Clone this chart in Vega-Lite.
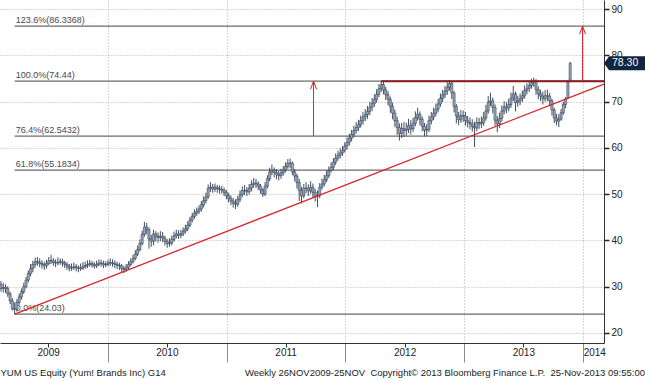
{
"$schema": "https://vega.github.io/schema/vega-lite/v6.json",
"width": 604, "height": 343,
"autosize": {"type": "none"},
"padding": {"left": 0, "top": 0, "right": 41, "bottom": 37},
"background": "white",
"config": {"view": {"stroke": null}, "font": "Liberation Sans", "axisX": {"labelOverlap": false}},
"title": {"text": "Weekly 26NOV2009-25NOV\u00a0 Copyright\u00a9 2013 Bloomberg Finance L.P.\u00a0 25-Nov-2013 09:55:00", "orient": "bottom", "anchor": "end", "frame": "group", "offset": -9, "dx": 41, "fontSize": 9.5, "fontWeight": "normal", "color": "#222", "font": "Liberation Sans"},
"datasets": {
"px": [
{"d":"2009-02-06","o":30.5,"h":31.2,"l":28.9,"c":29.6},
{"d":"2009-02-13","o":29.6,"h":30.8,"l":28.7,"c":29.85},
{"d":"2009-02-20","o":29.85,"h":30.5,"l":28.6,"c":29.6},
{"d":"2009-02-27","o":29.6,"h":30.1,"l":27.8,"c":28.45},
{"d":"2009-03-06","o":28.45,"h":28.9,"l":26.2,"c":26.9},
{"d":"2009-03-13","o":26.9,"h":27.5,"l":24.8,"c":25.2},
{"d":"2009-03-20","o":25.2,"h":26.6,"l":24.03,"c":25.1},
{"d":"2009-03-27","o":25.1,"h":27.3,"l":24.6,"c":26.6},
{"d":"2009-04-03","o":26.6,"h":28.5,"l":26.1,"c":27.75},
{"d":"2009-04-10","o":27.75,"h":29.6,"l":27.2,"c":28.9},
{"d":"2009-04-17","o":28.9,"h":30.8,"l":28.4,"c":30},
{"d":"2009-04-24","o":30,"h":32.1,"l":29.6,"c":31.4},
{"d":"2009-05-01","o":31.4,"h":33.5,"l":30.9,"c":32.8},
{"d":"2009-05-08","o":32.8,"h":34.9,"l":32.2,"c":33.9},
{"d":"2009-05-15","o":33.9,"h":35.6,"l":33.1,"c":34.8},
{"d":"2009-05-22","o":34.8,"h":36.3,"l":34.1,"c":35.4},
{"d":"2009-05-29","o":35.4,"h":36.4,"l":34.5,"c":35.3},
{"d":"2009-06-05","o":35.3,"h":36.1,"l":34.2,"c":35},
{"d":"2009-06-12","o":35,"h":35.7,"l":33.9,"c":34.8},
{"d":"2009-06-19","o":34.8,"h":35.4,"l":33.6,"c":34.5},
{"d":"2009-06-26","o":34.5,"h":35.8,"l":33.9,"c":35},
{"d":"2009-07-03","o":35,"h":36.4,"l":34.6,"c":35.6},
{"d":"2009-07-10","o":35.6,"h":36.9,"l":34.9,"c":35.6},
{"d":"2009-07-17","o":35.6,"h":36.2,"l":34.5,"c":35.2},
{"d":"2009-07-24","o":35.2,"h":35.9,"l":34.2,"c":35.1},
{"d":"2009-07-31","o":35.1,"h":36.3,"l":34.6,"c":35.3},
{"d":"2009-08-07","o":35.3,"h":36.1,"l":34.7,"c":35.4},
{"d":"2009-08-14","o":35.4,"h":36,"l":34.3,"c":35.1},
{"d":"2009-08-21","o":35.1,"h":35.6,"l":34,"c":34.8},
{"d":"2009-08-28","o":34.8,"h":35.3,"l":33.6,"c":34.4},
{"d":"2009-09-04","o":34.4,"h":34.9,"l":33.3,"c":34},
{"d":"2009-09-11","o":34,"h":35,"l":33.4,"c":34.1},
{"d":"2009-09-18","o":34.1,"h":35.2,"l":33.6,"c":34.3},
{"d":"2009-09-25","o":34.3,"h":34.9,"l":33.3,"c":34.1},
{"d":"2009-10-02","o":34.1,"h":34.6,"l":33.1,"c":33.9},
{"d":"2009-10-09","o":33.9,"h":35,"l":33.4,"c":34},
{"d":"2009-10-16","o":34,"h":35.3,"l":33.6,"c":34.3},
{"d":"2009-10-23","o":34.3,"h":35.4,"l":33.9,"c":34.6},
{"d":"2009-10-30","o":34.6,"h":35.7,"l":34,"c":34.8},
{"d":"2009-11-06","o":34.8,"h":35.8,"l":34.3,"c":35},
{"d":"2009-11-13","o":35,"h":35.5,"l":34.1,"c":34.7},
{"d":"2009-11-20","o":34.7,"h":35.3,"l":33.9,"c":34.5},
{"d":"2009-11-27","o":34.5,"h":35.6,"l":34,"c":34.8},
{"d":"2009-12-04","o":34.8,"h":35.9,"l":34.4,"c":35.1},
{"d":"2009-12-11","o":35.1,"h":35.8,"l":34.3,"c":35},
{"d":"2009-12-18","o":35,"h":35.6,"l":34,"c":34.7},
{"d":"2009-12-25","o":34.7,"h":35.5,"l":34.2,"c":34.8},
{"d":"2010-01-01","o":34.8,"h":35.8,"l":34.4,"c":35.1},
{"d":"2010-01-08","o":35.1,"h":36.1,"l":34.5,"c":35.2},
{"d":"2010-01-15","o":35.2,"h":35.9,"l":34.3,"c":35},
{"d":"2010-01-22","o":35,"h":35.7,"l":34,"c":34.8},
{"d":"2010-01-29","o":34.8,"h":35.4,"l":33.8,"c":34.6},
{"d":"2010-02-05","o":34.6,"h":35.2,"l":33.6,"c":34.5},
{"d":"2010-02-12","o":34.5,"h":34.9,"l":33.1,"c":33.9},
{"d":"2010-02-19","o":33.9,"h":34.5,"l":32.9,"c":33.7},
{"d":"2010-02-26","o":33.7,"h":34.9,"l":33.2,"c":34.2},
{"d":"2010-03-05","o":34.2,"h":35.5,"l":33.8,"c":34.8},
{"d":"2010-03-12","o":34.8,"h":36.1,"l":34.4,"c":35.4},
{"d":"2010-03-19","o":35.4,"h":36.9,"l":35,"c":36.1},
{"d":"2010-03-26","o":36.1,"h":37.9,"l":35.7,"c":37},
{"d":"2010-04-02","o":37,"h":38.9,"l":36.6,"c":38},
{"d":"2010-04-09","o":38,"h":40.2,"l":37.6,"c":39.3},
{"d":"2010-04-16","o":39.3,"h":42.1,"l":38.9,"c":41.3},
{"d":"2010-04-23","o":41.3,"h":44,"l":40.8,"c":42.9},
{"d":"2010-04-30","o":42.9,"h":43.8,"l":41.3,"c":42.3},
{"d":"2010-05-07","o":42.3,"h":42.8,"l":38.2,"c":40.3},
{"d":"2010-05-14","o":40.3,"h":41.2,"l":38.6,"c":39.8},
{"d":"2010-05-21","o":39.8,"h":42.3,"l":38.9,"c":41.4},
{"d":"2010-05-28","o":41.4,"h":42,"l":39.8,"c":40.9},
{"d":"2010-06-04","o":40.9,"h":41.7,"l":39.5,"c":40.6},
{"d":"2010-06-11","o":40.6,"h":42,"l":39.8,"c":40.9},
{"d":"2010-06-18","o":40.9,"h":41.8,"l":39.6,"c":40.5},
{"d":"2010-06-25","o":40.5,"h":41,"l":38.9,"c":39.8},
{"d":"2010-07-02","o":39.8,"h":40.3,"l":38.4,"c":39.3},
{"d":"2010-07-09","o":39.3,"h":40.5,"l":38.6,"c":39.4},
{"d":"2010-07-16","o":39.4,"h":41,"l":38.9,"c":40.2},
{"d":"2010-07-23","o":40.2,"h":41.9,"l":39.7,"c":41},
{"d":"2010-07-30","o":41,"h":42.3,"l":40.4,"c":41.4},
{"d":"2010-08-06","o":41.4,"h":42.2,"l":40.3,"c":41.1},
{"d":"2010-08-13","o":41.1,"h":42.3,"l":40.5,"c":41.4},
{"d":"2010-08-20","o":41.4,"h":42.8,"l":40.9,"c":42},
{"d":"2010-08-27","o":42,"h":43.4,"l":41.5,"c":42.5},
{"d":"2010-09-03","o":42.5,"h":44.1,"l":42,"c":43.3},
{"d":"2010-09-10","o":43.3,"h":45.1,"l":42.9,"c":44.4},
{"d":"2010-09-17","o":44.4,"h":46,"l":43.9,"c":45.2},
{"d":"2010-09-24","o":45.2,"h":46.7,"l":44.7,"c":45.9},
{"d":"2010-10-01","o":45.9,"h":47.1,"l":45.3,"c":46.3},
{"d":"2010-10-08","o":46.3,"h":47.6,"l":45.7,"c":46.8},
{"d":"2010-10-15","o":46.8,"h":48.5,"l":46.2,"c":47.7},
{"d":"2010-10-22","o":47.7,"h":49.5,"l":47.1,"c":48.6},
{"d":"2010-10-29","o":48.6,"h":50.3,"l":48,"c":49.4},
{"d":"2010-11-05","o":49.4,"h":52.1,"l":49,"c":51.3},
{"d":"2010-11-12","o":51.3,"h":52.6,"l":50.5,"c":51.5},
{"d":"2010-11-19","o":51.5,"h":52.2,"l":50.3,"c":51.1},
{"d":"2010-11-26","o":51.1,"h":52.3,"l":50.5,"c":51.5},
{"d":"2010-12-03","o":51.5,"h":52,"l":50.3,"c":51.2},
{"d":"2010-12-10","o":51.2,"h":51.9,"l":50.1,"c":51},
{"d":"2010-12-17","o":51,"h":51.8,"l":50.1,"c":50.9},
{"d":"2010-12-24","o":50.9,"h":51.4,"l":49.6,"c":50.4},
{"d":"2010-12-31","o":50.4,"h":50.9,"l":48.9,"c":49.7},
{"d":"2011-01-07","o":49.7,"h":50.3,"l":48.2,"c":49.1},
{"d":"2011-01-14","o":49.1,"h":49.7,"l":47.6,"c":48.5},
{"d":"2011-01-21","o":48.5,"h":49.2,"l":47.1,"c":48},
{"d":"2011-01-28","o":48,"h":48.9,"l":46.8,"c":47.8},
{"d":"2011-02-04","o":47.8,"h":49.6,"l":47.2,"c":48.9},
{"d":"2011-02-11","o":48.9,"h":50.8,"l":48.3,"c":49.9},
{"d":"2011-02-18","o":49.9,"h":51.7,"l":49.4,"c":50.8},
{"d":"2011-02-25","o":50.8,"h":52,"l":49.8,"c":50.8},
{"d":"2011-03-04","o":50.8,"h":51.5,"l":49.6,"c":50.5},
{"d":"2011-03-11","o":50.5,"h":52.2,"l":49.9,"c":51.3},
{"d":"2011-03-18","o":51.3,"h":53,"l":50.6,"c":52.1},
{"d":"2011-03-25","o":52.1,"h":53.5,"l":51.4,"c":52.4},
{"d":"2011-04-01","o":52.4,"h":53.3,"l":51.3,"c":52.2},
{"d":"2011-04-08","o":52.2,"h":52.8,"l":50.9,"c":51.7},
{"d":"2011-04-15","o":51.7,"h":52.2,"l":50.1,"c":50.9},
{"d":"2011-04-22","o":50.9,"h":51.3,"l":49.4,"c":50},
{"d":"2011-04-29","o":50,"h":52.6,"l":49.6,"c":51.7},
{"d":"2011-05-06","o":51.7,"h":54.1,"l":51.2,"c":53.3},
{"d":"2011-05-13","o":53.3,"h":55.7,"l":52.8,"c":54.8},
{"d":"2011-05-20","o":54.8,"h":56.4,"l":54.1,"c":55.2},
{"d":"2011-05-27","o":55.2,"h":55.8,"l":53.6,"c":54.7},
{"d":"2011-06-03","o":54.7,"h":55.4,"l":53.2,"c":54.3},
{"d":"2011-06-10","o":54.3,"h":55.1,"l":53,"c":54},
{"d":"2011-06-17","o":54,"h":55.5,"l":53.3,"c":54.6},
{"d":"2011-06-24","o":54.6,"h":56.1,"l":54,"c":55.2},
{"d":"2011-07-01","o":55.2,"h":56.9,"l":54.7,"c":56},
{"d":"2011-07-08","o":56,"h":57.6,"l":55.5,"c":56.7},
{"d":"2011-07-15","o":56.7,"h":57.7,"l":55.6,"c":56.7},
{"d":"2011-07-22","o":56.7,"h":57.1,"l":54.1,"c":54.8},
{"d":"2011-07-29","o":54.8,"h":55.4,"l":52.8,"c":53.9},
{"d":"2011-08-05","o":53.9,"h":54.4,"l":51.2,"c":52.5},
{"d":"2011-08-12","o":52.5,"h":53.3,"l":48.5,"c":50.8},
{"d":"2011-08-19","o":50.8,"h":51.6,"l":48,"c":49.6},
{"d":"2011-08-26","o":49.6,"h":52.2,"l":49.1,"c":51.3},
{"d":"2011-09-02","o":51.3,"h":52.6,"l":50.2,"c":51.3},
{"d":"2011-09-09","o":51.3,"h":52.1,"l":49.6,"c":50.7},
{"d":"2011-09-16","o":50.7,"h":52.8,"l":50.1,"c":51.5},
{"d":"2011-09-23","o":51.5,"h":52.3,"l":49.2,"c":50.4},
{"d":"2011-09-30","o":50.4,"h":51.2,"l":48.4,"c":49.5},
{"d":"2011-10-07","o":49.5,"h":50.8,"l":47.2,"c":49.7},
{"d":"2011-10-14","o":49.7,"h":52.4,"l":49.1,"c":51.5},
{"d":"2011-10-21","o":51.5,"h":53.4,"l":51,"c":52.2},
{"d":"2011-10-28","o":52.2,"h":54.2,"l":51.7,"c":53.1},
{"d":"2011-11-04","o":53.1,"h":55.1,"l":52.6,"c":54},
{"d":"2011-11-11","o":54,"h":56,"l":53.5,"c":55.1},
{"d":"2011-11-18","o":55.1,"h":56.9,"l":54.7,"c":55.8},
{"d":"2011-11-25","o":55.8,"h":57.8,"l":55.2,"c":56.9},
{"d":"2011-12-02","o":56.9,"h":58.8,"l":56.3,"c":57.8},
{"d":"2011-12-09","o":57.8,"h":59.4,"l":57.2,"c":58.4},
{"d":"2011-12-16","o":58.4,"h":59.9,"l":57.7,"c":58.9},
{"d":"2011-12-23","o":58.9,"h":60.4,"l":58.3,"c":59.5},
{"d":"2011-12-30","o":59.5,"h":61.2,"l":59,"c":60.4},
{"d":"2012-01-06","o":60.4,"h":62.3,"l":59.6,"c":61.2},
{"d":"2012-01-13","o":61.2,"h":63.1,"l":60.5,"c":62.1},
{"d":"2012-01-20","o":62.1,"h":63.9,"l":61.4,"c":62.9},
{"d":"2012-01-27","o":62.9,"h":64.8,"l":62.3,"c":63.8},
{"d":"2012-02-03","o":63.8,"h":65.6,"l":63.1,"c":64.4},
{"d":"2012-02-10","o":64.4,"h":66.1,"l":63.6,"c":65},
{"d":"2012-02-17","o":65,"h":67,"l":64.4,"c":65.9},
{"d":"2012-02-24","o":65.9,"h":67.8,"l":65.1,"c":66.7},
{"d":"2012-03-02","o":66.7,"h":68.4,"l":65.8,"c":67.2},
{"d":"2012-03-09","o":67.2,"h":69.1,"l":66.3,"c":67.9},
{"d":"2012-03-16","o":67.9,"h":70,"l":67.1,"c":68.8},
{"d":"2012-03-23","o":68.8,"h":70.8,"l":68,"c":69.6},
{"d":"2012-03-30","o":69.6,"h":71.6,"l":68.9,"c":70.5},
{"d":"2012-04-06","o":70.5,"h":72.7,"l":69.8,"c":71.6},
{"d":"2012-04-13","o":71.6,"h":73.8,"l":71,"c":72.8},
{"d":"2012-04-20","o":72.8,"h":74.44,"l":72.1,"c":73.7},
{"d":"2012-04-27","o":73.7,"h":74.4,"l":71.6,"c":72.5},
{"d":"2012-05-04","o":72.5,"h":73.2,"l":70.4,"c":71.5},
{"d":"2012-05-11","o":71.5,"h":72.3,"l":69.2,"c":70.5},
{"d":"2012-05-18","o":70.5,"h":71.1,"l":67.6,"c":69},
{"d":"2012-05-25","o":69,"h":69.8,"l":66.2,"c":67.5},
{"d":"2012-06-01","o":67.5,"h":68.3,"l":64.6,"c":65.9},
{"d":"2012-06-08","o":65.9,"h":66.8,"l":62.8,"c":64.4},
{"d":"2012-06-15","o":64.4,"h":65.3,"l":61.6,"c":63.1},
{"d":"2012-06-22","o":63.1,"h":65.4,"l":62.1,"c":64.2},
{"d":"2012-06-29","o":64.2,"h":65.6,"l":62.4,"c":63.8},
{"d":"2012-07-06","o":63.8,"h":65.5,"l":62.7,"c":64},
{"d":"2012-07-13","o":64,"h":66.3,"l":63.2,"c":64.9},
{"d":"2012-07-20","o":64.9,"h":66,"l":62.9,"c":64.1},
{"d":"2012-07-27","o":64.1,"h":66.5,"l":63.5,"c":65.3},
{"d":"2012-08-03","o":65.3,"h":67.9,"l":64.7,"c":66.6},
{"d":"2012-08-10","o":66.6,"h":68.7,"l":65.9,"c":67.3},
{"d":"2012-08-17","o":67.3,"h":67.9,"l":64.9,"c":66.2},
{"d":"2012-08-24","o":66.2,"h":66.8,"l":63.6,"c":64.7},
{"d":"2012-08-31","o":64.7,"h":65.4,"l":62.5,"c":63.8},
{"d":"2012-09-07","o":63.8,"h":65.2,"l":62.6,"c":64},
{"d":"2012-09-14","o":64,"h":67,"l":63.4,"c":65.9},
{"d":"2012-09-21","o":65.9,"h":67.8,"l":65.1,"c":66.7},
{"d":"2012-09-28","o":66.7,"h":68.7,"l":66,"c":67.5},
{"d":"2012-10-05","o":67.5,"h":69.6,"l":66.8,"c":68.4},
{"d":"2012-10-12","o":68.4,"h":70.6,"l":67.7,"c":69.5},
{"d":"2012-10-19","o":69.5,"h":71.8,"l":68.9,"c":70.7},
{"d":"2012-10-26","o":70.7,"h":72.6,"l":69.9,"c":71.5},
{"d":"2012-11-02","o":71.5,"h":73.4,"l":70.8,"c":72.3},
{"d":"2012-11-09","o":72.3,"h":74.2,"l":71.5,"c":73.1},
{"d":"2012-11-16","o":73.1,"h":74.7,"l":72.4,"c":74},
{"d":"2012-11-23","o":74,"h":74.3,"l":70.6,"c":71.9},
{"d":"2012-11-30","o":71.9,"h":72.3,"l":67.7,"c":69},
{"d":"2012-12-07","o":69,"h":69.5,"l":65.3,"c":66.9},
{"d":"2012-12-14","o":66.9,"h":67.8,"l":64.9,"c":66.1},
{"d":"2012-12-21","o":66.1,"h":68.2,"l":65.4,"c":67},
{"d":"2012-12-28","o":67,"h":68.1,"l":65.6,"c":66.9},
{"d":"2013-01-04","o":66.9,"h":67.8,"l":64.8,"c":65.9},
{"d":"2013-01-11","o":65.9,"h":66.9,"l":64.4,"c":65.5},
{"d":"2013-01-18","o":65.5,"h":66.6,"l":64,"c":65.2},
{"d":"2013-01-25","o":65.2,"h":66.2,"l":63.5,"c":64.6},
{"d":"2013-02-01","o":64.6,"h":65.7,"l":60.2,"c":64.3},
{"d":"2013-02-08","o":64.3,"h":66.6,"l":63.6,"c":65.5},
{"d":"2013-02-15","o":65.5,"h":66.5,"l":64.1,"c":65.2},
{"d":"2013-02-22","o":65.2,"h":66.8,"l":64.3,"c":65.5},
{"d":"2013-03-01","o":65.5,"h":67.8,"l":64.8,"c":66.5},
{"d":"2013-03-08","o":66.5,"h":69.3,"l":65.9,"c":68},
{"d":"2013-03-15","o":68,"h":71.2,"l":67.4,"c":69.9},
{"d":"2013-03-22","o":69.9,"h":71.9,"l":69,"c":70.2},
{"d":"2013-03-29","o":70.2,"h":70.9,"l":67.5,"c":68.8},
{"d":"2013-04-05","o":68.8,"h":69.4,"l":64.8,"c":66},
{"d":"2013-04-12","o":66,"h":66.9,"l":63.4,"c":65.2},
{"d":"2013-04-19","o":65.2,"h":67.6,"l":64.3,"c":66.4},
{"d":"2013-04-26","o":66.4,"h":69.2,"l":65.7,"c":68},
{"d":"2013-05-03","o":68,"h":70.1,"l":67.3,"c":68.9},
{"d":"2013-05-10","o":68.9,"h":69.9,"l":67.5,"c":68.6},
{"d":"2013-05-17","o":68.6,"h":70.6,"l":67.9,"c":69.4},
{"d":"2013-05-24","o":69.4,"h":72,"l":68.7,"c":70.8},
{"d":"2013-05-31","o":70.8,"h":73.4,"l":70.1,"c":71.7},
{"d":"2013-06-07","o":71.7,"h":72.2,"l":67.9,"c":69.8},
{"d":"2013-06-14","o":69.8,"h":71.3,"l":68.9,"c":70.2},
{"d":"2013-06-21","o":70.2,"h":71.8,"l":69.3,"c":70.7},
{"d":"2013-06-28","o":70.7,"h":72.4,"l":69.9,"c":71.3},
{"d":"2013-07-05","o":71.3,"h":73.5,"l":70.7,"c":72.4},
{"d":"2013-07-12","o":72.4,"h":74,"l":71.6,"c":72.9},
{"d":"2013-07-19","o":72.9,"h":74.5,"l":72.1,"c":73.5},
{"d":"2013-07-26","o":73.5,"h":75,"l":72.8,"c":74.1},
{"d":"2013-08-02","o":74.1,"h":75.2,"l":73.2,"c":74.5},
{"d":"2013-08-09","o":74.5,"h":74.9,"l":71.5,"c":72.6},
{"d":"2013-08-16","o":72.6,"h":73.3,"l":70.5,"c":71.7},
{"d":"2013-08-23","o":71.7,"h":72.6,"l":70.1,"c":71.2},
{"d":"2013-08-30","o":71.2,"h":72.2,"l":69.4,"c":70.6},
{"d":"2013-09-06","o":70.6,"h":72.5,"l":70,"c":71.3},
{"d":"2013-09-13","o":71.3,"h":72.6,"l":70.1,"c":71.2},
{"d":"2013-09-20","o":71.2,"h":71.9,"l":69,"c":70.2},
{"d":"2013-09-27","o":70.2,"h":70.6,"l":67,"c":68.2},
{"d":"2013-10-04","o":68.2,"h":68.7,"l":65.4,"c":66.5},
{"d":"2013-10-11","o":66.5,"h":67.4,"l":64.9,"c":65.8},
{"d":"2013-10-18","o":65.8,"h":67.3,"l":64.5,"c":66.2},
{"d":"2013-10-25","o":66.2,"h":68.4,"l":65.9,"c":67.6},
{"d":"2013-11-01","o":67.6,"h":70,"l":67.2,"c":69.4},
{"d":"2013-11-08","o":69.4,"h":71,"l":68.6,"c":70.6},
{"d":"2013-11-15","o":70.8,"h":74.7,"l":70.6,"c":74.3},
{"d":"2013-11-22","o":74.7,"h":78.6,"l":74.5,"c":78.3}
],
"fib": [
{"lbl":"123.6%(86.3368)","v":86.3368,"s":"2009-03-20"},
{"lbl":"100.0%(74.44)","v":74.44,"s":"2009-03-20"},
{"lbl":"76.4%(62.5432)","v":62.5432,"s":"2009-03-20"},
{"lbl":"61.8%(55.1834)","v":55.1834,"s":"2009-03-20"},
{"lbl":"0.0%(24.03)","v":24.03,"s":"2009-03-20"}
],
"arrows": [
{"d":"2011-09-25","from":62.5432,"to":74.44},
{"d":"2013-12-30","from":74.44,"to":86.3368}
],
"tag": [{"v":78.3,"txt":"78.30"}]
},
"layer": [
{
"data": {"name": "fib"},
"mark": {"type": "rule", "color": "#6b6b6b", "strokeWidth": 1.2},
"encoding": {
"x": {"field": "s", "type": "temporal", "scale": {"domain": [{"year":2009,"month":2,"date":3},{"year":2014,"month":3,"date":6}], "padding": 0},
"axis": {
"values": [
{"year":2009,"month":2,"date":3},
{"year":2009,"month":4,"date":1},{"year":2009,"month":7,"date":1},{"year":2009,"month":10,"date":1},
{"year":2010,"month":1,"date":1},{"year":2010,"month":4,"date":1},{"year":2010,"month":7,"date":1},{"year":2010,"month":10,"date":1},
{"year":2011,"month":1,"date":1},{"year":2011,"month":4,"date":1},{"year":2011,"month":7,"date":1},{"year":2011,"month":10,"date":1},
{"year":2012,"month":1,"date":1},{"year":2012,"month":4,"date":1},{"year":2012,"month":7,"date":1},{"year":2012,"month":10,"date":1},
{"year":2013,"month":1,"date":1},{"year":2013,"month":4,"date":1},{"year":2013,"month":7,"date":1},{"year":2013,"month":10,"date":1},
{"year":2014,"month":1,"date":1}
],
"title": "YUM US Equity (Yum! Brands Inc) G14",
"titleAnchor": "start", "titleAlign": "left", "titleFontSize": 9.5, "titleFontWeight": "normal", "titleColor": "#222", "titleFont": "Liberation Sans", "titlePadding": 5,
"labelExpr": "(timeFormat(datum.value, '%m-%d') == '07-01' || timeFormat(datum.value, '%Y-%m-%d') == '2014-01-01') ? timeFormat(datum.value, '%Y') : ''",
"labelFontSize": 10, "labelColor": "#222", "labelFlush": false, "labelOverlap": false, "labelBound": false,
"labelPadding": {"condition": {"test": "timeFormat(datum.value, '%m-%d') == '01-01'", "value": -15}, "value": 0},
"labelAlign": {"condition": {"test": "timeFormat(datum.value, '%Y-%m-%d') == '2014-01-01'", "value": "left"}, "value": "center"},
"tickSize": {"condition": {"test": "timeFormat(datum.value, '%m-%d') == '01-01'", "value": 19}, "value": 4},
"tickColor": {"condition": {"test": "timeFormat(datum.value, '%m-%d') == '01-01'", "value": "#8a8a8a"}, "value": "#333"},
"tickOpacity": {"condition": {"test": "timeFormat(datum.value, '%m-%d') == '02-03'", "value": 0}, "value": 1},
"grid": true,
"gridOpacity": {"condition": {"test": "timeFormat(datum.value, '%m-%d') == '01-01'", "value": 1}, "value": 0},
"gridDash": [1, 2], "gridColor": "#b0b0b0",
"domainColor": "#333"
}},
"x2": {"datum": {"year":2014,"month":3,"date":6}},
"y": {"field": "v", "type": "quantitative", "scale": {"domain": [17.8, 92], "nice": false, "zero": false},
"axis": {
"orient": "right", "title": null,
"values": [20,25,30,35,40,45,50,55,60,65,70,75,80,85,90],
"labelExpr": "datum.value % 10 == 0 ? datum.label : ''",
"tickSize": {"condition": {"test": "datum.value % 10 == 0", "value": 5}, "value": 3},
"tickColor": "#222", "tickWidth": 1.5,
"grid": true,
"gridOpacity": {"condition": {"test": "datum.value % 10 == 0", "value": 1}, "value": 0},
"gridDash": [1, 2], "gridColor": "#b0b0b0",
"domainColor": "#333", "labelFontSize": 10, "labelColor": "#222", "labelPadding": 2
}}
}
},
{
"data": {"name": "fib"},
"mark": {"type": "text", "align": "left", "baseline": "bottom", "dx": 1, "dy": -1, "fontSize": 9, "color": "#4a4a4a", "font": "Liberation Sans"},
"encoding": {
"x": {"field": "s", "type": "temporal"},
"y": {"field": "v", "type": "quantitative"},
"text": {"field": "lbl"}
}
},
{
"data": {"name": "px"},
"mark": {"type": "rule", "color": "#2a3a4c", "strokeWidth": 0.9},
"encoding": {
"x": {"field": "d", "type": "temporal"},
"y": {"field": "l", "type": "quantitative"},
"y2": {"field": "h"}
}
},
{
"data": {"name": "px"},
"mark": {"type": "bar", "size": 2.2, "fill": "#97a6b8", "stroke": "#26364a", "strokeWidth": 0.5},
"encoding": {
"x": {"field": "d", "type": "temporal"},
"y": {"field": "o", "type": "quantitative"},
"y2": {"field": "c"}
}
},
{
"data": {"values": [{}]},
"mark": {"type": "rule", "color": "#d8262b", "strokeWidth": 1.3},
"encoding": {
"x": {"datum": {"year":2009,"month":3,"date":20}, "type": "temporal"},
"x2": {"datum": {"year":2014,"month":3,"date":6}},
"y": {"datum": 24.03, "type": "quantitative"},
"y2": {"datum": 73.8}
}
},
{
"data": {"values": [{}]},
"mark": {"type": "rule", "color": "#8e1b1f", "strokeWidth": 2},
"encoding": {
"x": {"datum": {"year":2012,"month":4,"date":20}, "type": "temporal"},
"x2": {"datum": {"year":2014,"month":3,"date":6}},
"y": {"datum": 74.44, "type": "quantitative"}
}
},
{
"data": {"name": "arrows"},
"mark": {"type": "rule", "color": "#d8262b", "strokeWidth": 1},
"encoding": {
"x": {"field": "d", "type": "temporal"},
"y": {"field": "from", "type": "quantitative"},
"y2": {"field": "to"}
}
},
{
"data": {"name": "arrows"},
"mark": {"type": "point", "shape": "M -0.75 2 L 0 0 L 0.75 2", "size": 64, "filled": false, "stroke": "#d8262b", "strokeWidth": 1, "opacity": 1},
"encoding": {
"x": {"field": "d", "type": "temporal"},
"y": {"field": "to", "type": "quantitative"}
}
},
{
"data": {"name": "tag"},
"mark": {"type": "point", "shape": "M 0 0 L 0.25 -0.34 L 2 -0.34 L 2 0.34 L 0.25 0.34 Z", "size": 1681, "filled": true, "fill": "#0f2540", "stroke": null, "opacity": 1, "clip": false},
"encoding": {
"x": {"datum": {"year":2014,"month":3,"date":6}, "type": "temporal"},
"y": {"field": "v", "type": "quantitative"}
}
},
{
"data": {"name": "tag"},
"mark": {"type": "text", "align": "left", "baseline": "middle", "dx": 8, "fontSize": 10.5, "color": "white", "font": "Liberation Sans", "clip": false},
"encoding": {
"x": {"datum": {"year":2014,"month":3,"date":6}, "type": "temporal"},
"y": {"field": "v", "type": "quantitative"},
"text": {"field": "txt"}
}
}
]
}
